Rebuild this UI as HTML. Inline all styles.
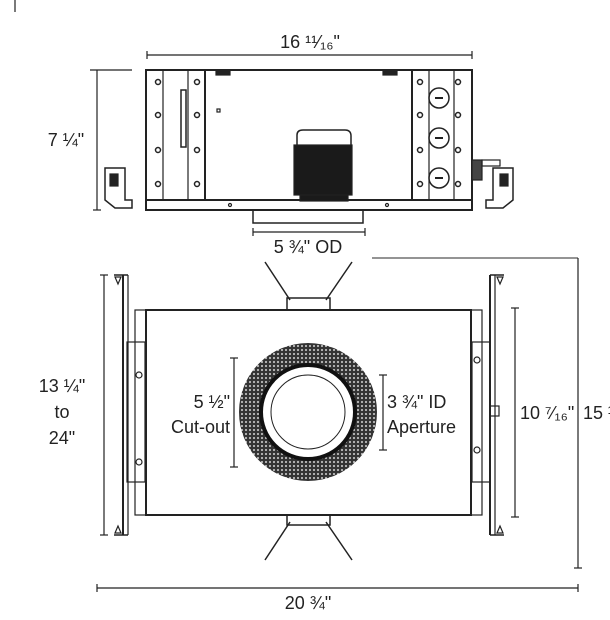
<!DOCTYPE html>
<html><head><meta charset="utf-8"><style>
html,body{margin:0;padding:0;background:#fff;}
svg{display:block;}
text{font-family:"Liberation Sans Narrow","Liberation Sans",sans-serif;font-size:18px;fill:#222;}
</style></head><body>
<svg width="610" height="620" viewBox="0 0 610 620" xmlns="http://www.w3.org/2000/svg">
<defs>
<pattern id="mesh" width="4" height="4" patternUnits="userSpaceOnUse">
<rect width="4" height="4" fill="#333"/><circle cx="2" cy="2" r="1.1" fill="#bbb"/>
</pattern>
</defs>
<g stroke="#222" fill="none" stroke-width="1.2">
<line x1="15" y1="0" x2="15" y2="12"/>
<!-- top dims -->
<line x1="147" y1="55" x2="472" y2="55"/><line x1="147" y1="51" x2="147" y2="59"/><line x1="472" y1="51" x2="472" y2="59"/>
<line x1="90" y1="70" x2="132" y2="70"/><line x1="97" y1="70" x2="97" y2="210"/><line x1="93" y1="210" x2="101" y2="210"/>
<!-- top box -->
<rect x="146" y="70" width="326" height="140" stroke-width="2"/>
<line x1="146" y1="200" x2="472" y2="200" stroke-width="2"/>
<line x1="163" y1="70" x2="163" y2="200"/><line x1="188" y1="70" x2="188" y2="200"/><line x1="205" y1="70" x2="205" y2="200" stroke-width="2"/>
<line x1="412" y1="70" x2="412" y2="200" stroke-width="2"/><line x1="429" y1="70" x2="429" y2="200"/><line x1="454" y1="70" x2="454" y2="200"/>
<rect x="181" y="90" width="5" height="57" stroke-width="1.5"/>
<rect x="217" y="109" width="3" height="3"/>
<rect x="216" y="70" width="14" height="5" fill="#222"/><rect x="383" y="70" width="14" height="5" fill="#222"/>
<g stroke-width="1.5">
<circle cx="158" cy="82" r="2.5"/><circle cx="158" cy="115" r="2.5"/><circle cx="158" cy="150" r="2.5"/><circle cx="158" cy="184" r="2.5"/>
<circle cx="197" cy="82" r="2.5"/><circle cx="197" cy="115" r="2.5"/><circle cx="197" cy="150" r="2.5"/><circle cx="197" cy="184" r="2.5"/>
<circle cx="420" cy="82" r="2.5"/><circle cx="420" cy="115" r="2.5"/><circle cx="420" cy="150" r="2.5"/><circle cx="420" cy="184" r="2.5"/>
<circle cx="458" cy="82" r="2.5"/><circle cx="458" cy="115" r="2.5"/><circle cx="458" cy="150" r="2.5"/><circle cx="458" cy="184" r="2.5"/>
<circle cx="439" cy="98" r="10"/><circle cx="439" cy="138" r="10"/><circle cx="439" cy="178" r="10"/>
</g>
<line x1="435" y1="98" x2="443" y2="98" stroke-width="2"/><line x1="435" y1="138" x2="443" y2="138" stroke-width="2"/><line x1="435" y1="178" x2="443" y2="178" stroke-width="2"/>
<circle cx="230" cy="205" r="1.5"/><circle cx="387" cy="205" r="1.5"/>
<!-- motor -->
<path d="M297 145 V135 Q297 130 303 130 H345 Q351 130 351 136 V145" stroke-width="1.5"/>
<rect x="294" y="145" width="58" height="50" fill="#1a1a1a"/>
<rect x="300" y="195" width="48" height="6" fill="#1a1a1a"/>
<!-- collar -->
<rect x="253" y="210" width="110" height="13" stroke-width="1.5"/>
<line x1="253" y1="232" x2="365" y2="232"/><line x1="253" y1="228" x2="253" y2="236"/><line x1="365" y1="228" x2="365" y2="236"/>
<!-- brackets -->
<path d="M105 168 H125 V200 L132 200 V208 H115 L105 200 Z" stroke-width="1.5"/>
<rect x="110" y="174" width="8" height="12" fill="#222"/>
<path d="M513 168 H493 V200 L486 200 V208 H503 L513 200 Z" stroke-width="1.5"/>
<rect x="500" y="174" width="8" height="12" fill="#222"/>
<rect x="472" y="160" width="10" height="20" fill="#444"/><rect x="482" y="160" width="18" height="6"/>
<!-- bottom view -->
<line x1="372" y1="258" x2="578" y2="258" stroke="#555"/>
<line x1="265" y1="262" x2="290" y2="300" stroke-width="1.5"/><line x1="352" y1="262" x2="326" y2="300" stroke-width="1.5"/>
<rect x="287" y="298" width="43" height="12" stroke-width="1.5"/>
<line x1="265" y1="560" x2="290" y2="522" stroke-width="1.5"/><line x1="352" y1="560" x2="326" y2="522" stroke-width="1.5"/>
<rect x="287" y="515" width="43" height="10" stroke-width="1.5"/>
<rect x="146" y="310" width="325" height="205" stroke-width="2"/>
<rect x="135" y="310" width="11" height="205"/><rect x="127" y="342" width="18" height="140"/>
<rect x="471" y="310" width="11" height="205"/><rect x="472" y="342" width="18" height="140"/>
<line x1="123" y1="275" x2="123" y2="535" stroke-width="2"/><line x1="128" y1="275" x2="128" y2="535"/>
<line x1="490" y1="275" x2="490" y2="535" stroke-width="2"/><line x1="495" y1="275" x2="495" y2="535"/>
<path d="M114 275 h14 M114 535 h14 M490 275 h14 M490 535 h14" stroke-width="1.5"/>
<path d="M115 277 l3 7 3-7z M115 533 l3 -7 3 7z M497 277 l3 7 3-7z M497 533 l3 -7 3 7z"/>
<circle cx="139" cy="375" r="3"/><circle cx="139" cy="462" r="3"/><circle cx="477" cy="360" r="3"/><circle cx="477" cy="450" r="3"/>
<rect x="490" y="406" width="9" height="10"/>
<circle cx="308" cy="412" r="69" fill="url(#mesh)" stroke="none"/>
<circle cx="308" cy="412" r="47" fill="#fff" stroke="#111" stroke-width="4"/>
<circle cx="308" cy="412" r="37" stroke-width="1"/>
<!-- bottom dims -->
<line x1="234" y1="358" x2="234" y2="467"/><line x1="230" y1="358" x2="238" y2="358"/><line x1="230" y1="467" x2="238" y2="467"/>
<line x1="383" y1="375" x2="383" y2="450"/><line x1="379" y1="375" x2="387" y2="375"/><line x1="379" y1="450" x2="387" y2="450"/>
<line x1="515" y1="308" x2="515" y2="517"/><line x1="511" y1="308" x2="519" y2="308"/><line x1="511" y1="517" x2="519" y2="517"/>
<line x1="578" y1="258" x2="578" y2="568"/><line x1="574" y1="568" x2="582" y2="568"/>
<line x1="104" y1="275" x2="104" y2="535"/><line x1="100" y1="275" x2="108" y2="275"/><line x1="100" y1="535" x2="108" y2="535"/>
<line x1="97" y1="588" x2="578" y2="588"/><line x1="97" y1="584" x2="97" y2="592"/><line x1="578" y1="584" x2="578" y2="592"/>
</g>
<text x="310" y="48" text-anchor="middle">16 ¹¹⁄₁₆"</text>
<text x="66" y="146" text-anchor="middle">7 ¼"</text>
<text x="308" y="253" text-anchor="middle">5 ¾" OD</text>
<text x="62" y="392" text-anchor="middle">13 ¼"</text>
<text x="62" y="418" text-anchor="middle">to</text>
<text x="62" y="444" text-anchor="middle">24"</text>
<text x="230" y="408" text-anchor="end">5 ½"</text>
<text x="230" y="433" text-anchor="end">Cut-out</text>
<text x="387" y="408">3 ¾" ID</text>
<text x="387" y="433">Aperture</text>
<text x="520" y="419">10 ⁷⁄₁₆"</text>
<text x="583" y="419">15 ¼"</text>
<text x="308" y="609" text-anchor="middle">20 ¾"</text>
</svg>
</body></html>
